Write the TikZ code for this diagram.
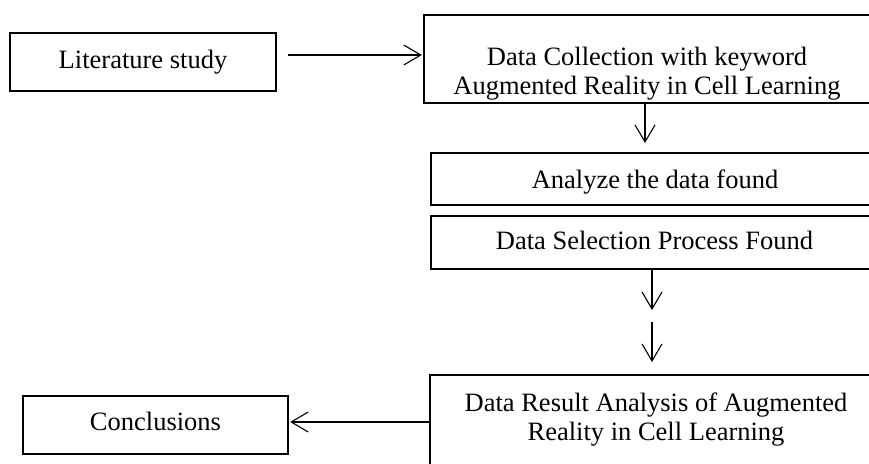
\documentclass[tikz,border=0pt]{standalone}
\usepackage{fontspec}
\setmainfont{Liberation Serif}
\usetikzlibrary{arrows.meta}
\begin{document}
\begin{tikzpicture}[x=1pt,y=-1pt,
  box/.style={draw=black, line width=1.3pt, rectangle, inner sep=0pt},
  lbl/.style={inner sep=0pt, align=center, font=\fontsize{26.5}{28.6}\selectfont},
  arr/.style={line width=1.1pt, -{Straight Barb[length=17pt,width=20pt]}}]
\useasboundingbox (0,0) rectangle (869,463);
\clip (0,0) rectangle (869,463);

% boxes
\node[box, minimum width=266pt, minimum height=58pt] (lit) at (143,62) {};
\node[box, minimum width=452pt, minimum height=88pt] (dc) at (650,59) {};
\node[box, minimum width=448pt, minimum height=52pt] (ana) at (655,179) {};
\node[box, minimum width=448pt, minimum height=53pt] (sel) at (655,242.5) {};
\node[box, minimum width=452pt, minimum height=95pt] (res) at (656,422.5) {};
\node[box, minimum width=265pt, minimum height=58pt] (conc) at (155.5,425) {};

% labels
\node[lbl, anchor=base] (littext) at (143,68.3) {Literature study};
\node[lbl, anchor=north] (dctext) at (647,47) {Data Collection with keyword\\Augmented Reality in Cell Learning};
\node[lbl, anchor=base] (anatext) at (655,188.3) {Analyze the data found};
\node[lbl, anchor=base] (seltext) at (654.5,249.3) {Data Selection Process Found};
\node[lbl, anchor=north] (restext) at (656,393) {Data Result Analysis of Augmented\\Reality in Cell Learning};
\node[lbl, anchor=base] (conctext) at (155.5,430.7) {Conclusions};

% connectors
\coordinate (litout) at (288,55);
\draw[arr, shorten >=1.5pt] (litout) -- (dc.west |- litout);
\coordinate (d1end) at (645,143);
\draw[arr] (dc.south -| d1end) -- (d1end);
\coordinate (d2end) at (652,310);
\draw[arr] (sel.south -| d2end) -- (d2end);
\coordinate (d3start) at (652,322);
\coordinate (d3end) at (652,362);
\draw[arr] (d3start) -- (d3end);
\coordinate (resout) at (430,422);
\draw[arr, shorten >=1.5pt] (res.west |- resout) -- (conc.east |- resout);
\end{tikzpicture}
\end{document}
